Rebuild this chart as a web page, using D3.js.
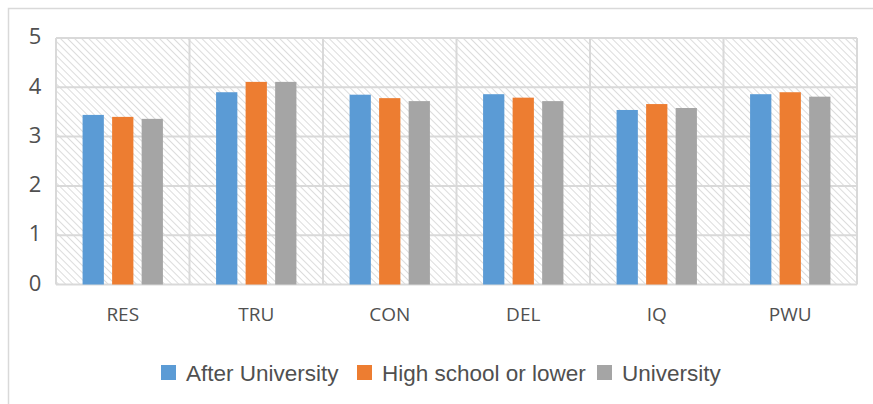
<!DOCTYPE html>
<html>
<head>
<meta charset="utf-8">
<script src="https://cdn.jsdelivr.net/npm/d3@7"></script>
<style>
  body { margin: 0; background: #fff; }
  svg { display: block; }
</style>
</head>
<body>
<div id="chart"></div>
<script>
// Grouped bar chart: dimension scores by education level

const categories = ["RES", "TRU", "CON", "DEL", "IQ", "PWU"];
const seriesNames = ["After University", "High school or lower", "University"];
const afterUniversity = [3.44, 3.90, 3.85, 3.86, 3.54, 3.86];
const highSchool = [3.40, 4.11, 3.78, 3.79, 3.66, 3.90];
const university = [3.36, 4.11, 3.72, 3.72, 3.58, 3.81];
const yTicks = [0, 1, 2, 3, 4, 5];
const colors = ["#5b9bd5", "#ed7d31", "#a5a5a5"];

const W = 873, H = 404;
const plot = { left: 56, top: 38, right: 857, bottom: 284.5 };

const svg = d3.select("#chart")
    .append("svg")
    .attr("width", W)
    .attr("height", H);

// hatch pattern for plot background
const defs = svg.append("defs");
const pat = defs.append("pattern")
    .attr("id", "hatch")
    .attr("patternUnits", "userSpaceOnUse")
    .attr("width", 5)
    .attr("height", 5)
    .attr("patternTransform", "rotate(-45)");
pat.append("rect").attr("width", 5).attr("height", 5).attr("fill", "#fff");
pat.append("line")
    .attr("x1", 0).attr("y1", 0).attr("x2", 0).attr("y2", 5)
    .attr("stroke", "#d6d6d6")
    .attr("stroke-width", 1.7);

// outer chart frame
svg.append("rect")
    .attr("x", 8.5).attr("y", 8.5)
    .attr("width", 880).attr("height", 420)
    .attr("fill", "#fff")
    .attr("stroke", "#d9d9d9")
    .attr("stroke-width", 1.5);

const x = d3.scaleBand()
    .domain(categories)
    .range([plot.left, plot.right]);

const y = d3.scaleLinear()
    .domain([0, 5])
    .range([plot.bottom, plot.top]);

const xInner = d3.scaleBand()
    .domain(seriesNames)
    .range([0, x.bandwidth()])
    .paddingInner(0.28)
    .paddingOuter(0.9);

// plot background
svg.append("rect")
    .attr("x", plot.left).attr("y", plot.top)
    .attr("width", plot.right - plot.left)
    .attr("height", plot.bottom - plot.top)
    .attr("fill", "url(#hatch)");

// horizontal gridlines
svg.append("g")
    .selectAll("line")
    .data(yTicks)
    .enter()
    .append("line")
    .attr("x1", plot.left).attr("x2", plot.right)
    .attr("y1", d => y(d)).attr("y2", d => y(d))
    .attr("stroke", "#d9d9d9")
    .attr("stroke-width", 2);

// vertical category dividers
const dividers = categories.map(c => x(c)).concat([plot.right]);
svg.append("g")
    .selectAll("line")
    .data(dividers)
    .enter()
    .append("line")
    .attr("x1", d => d).attr("x2", d => d)
    .attr("y1", plot.top).attr("y2", plot.bottom)
    .attr("stroke", "#d9d9d9")
    .attr("stroke-width", 2);

// bars
const table = categories.map((c, i) => ({
    cat: c,
    values: [afterUniversity[i], highSchool[i], university[i]]
}));

const groups = svg.append("g")
    .selectAll("g")
    .data(table)
    .enter()
    .append("g")
    .attr("transform", d => `translate(${x(d.cat)},0)`);

groups.selectAll("rect")
    .data(d => d.values.map((v, j) => ({ name: seriesNames[j], v: v, j: j })))
    .enter()
    .append("rect")
    .attr("x", d => xInner(d.name))
    .attr("width", xInner.bandwidth())
    .attr("y", d => y(d.v))
    .attr("height", d => y(0) - y(d.v))
    .attr("fill", d => colors[d.j]);

// y axis labels
svg.append("g")
    .selectAll("text")
    .data(yTicks)
    .enter()
    .append("text")
    .attr("x", 35)
    .attr("y", d => y(d) - 1.5)
    .attr("dy", "0.35em")
    .attr("text-anchor", "middle")
    .style("font-family", "'Open Sans', sans-serif")
    .style("font-size", "22px")
    .attr("fill", "#505050")
    .text(d => d);

// x axis labels
svg.append("g")
    .selectAll("text")
    .data(categories)
    .enter()
    .append("text")
    .attr("x", d => x(d) + x.bandwidth() / 2)
    .attr("y", 321)
    .attr("text-anchor", "middle")
    .style("font-family", "'Open Sans', sans-serif")
    .style("font-size", "19px")
    .attr("fill", "#505050")
    .text(d => d);

// legend
const legendX = [161, 357, 597];
const legend = svg.append("g")
    .selectAll("g")
    .data(seriesNames)
    .enter()
    .append("g")
    .attr("transform", (d, i) => `translate(${legendX[i]},365)`);

legend.append("rect")
    .attr("width", 15).attr("height", 15)
    .attr("fill", (d, i) => colors[i]);

legend.append("text")
    .attr("x", 25)
    .attr("y", 16)
    .style("font-family", "'Liberation Sans', Arial, sans-serif")
    .style("font-size", "22.5px")
    .attr("fill", "#505050")
    .text(d => d);
</script>
</body>
</html>
